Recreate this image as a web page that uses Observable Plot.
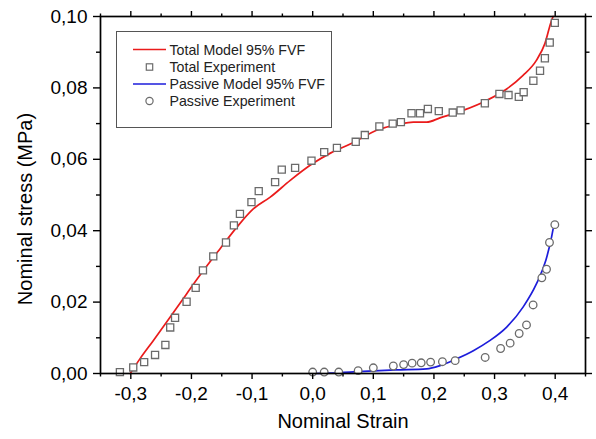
<!DOCTYPE html>
<html>
<head>
<meta charset="utf-8">
<script src="https://cdn.jsdelivr.net/npm/d3@7"></script>
<script src="https://cdn.jsdelivr.net/npm/@observablehq/plot@0.6"></script>
<style>
  html, body { margin: 0; padding: 0; background: white; }
</style>
</head>
<body>
<div id="chart"></div>
<script>
// Total model 95% FVF (red curve)
const totalModelX = [-0.301,-0.285,-0.263,-0.235,-0.208,-0.180,-0.153,-0.125,-0.098,-0.070,-0.037,0.0,0.030,0.062,0.111,0.140,0.166,0.188,0.210,0.248,0.287,0.320,0.347,0.369,0.383,0.394,0.3966];
const totalModelY = [0,0.0041,0.0092,0.0158,0.0223,0.0289,0.0349,0.0410,0.0461,0.0494,0.0541,0.0588,0.0618,0.0643,0.0685,0.0697,0.0704,0.0704,0.0716,0.0737,0.0765,0.0797,0.0835,0.0877,0.0924,0.0989,0.1];

// Passive model 95% FVF (blue curve)
const passiveModelX = [0,0.0285,0.083,0.138,0.188,0.21,0.237,0.265,0.292,0.32,0.347,0.369,0.3846,0.394,0.3966];
const passiveModelY = [0,0.0001,0.0006,0.001,0.0013,0.0022,0.0041,0.0064,0.0092,0.013,0.0186,0.0251,0.0317,0.0382,0.0405];

// Total experiment (squares)
const totalExpX = [-0.318,-0.296,-0.278,-0.260,-0.243,-0.235,-0.227,-0.208,-0.193,-0.181,-0.164,-0.143,-0.130,-0.120,-0.101,-0.089,-0.062,-0.051,-0.029,-0.002,0.019,0.040,0.071,0.086,0.110,0.132,0.1455,0.163,0.177,0.190,0.208,0.231,0.244,0.284,0.308,0.323,0.340,0.348,0.364,0.375,0.383,0.391,0.3994];
const totalExpY = [0.0004,0.0017,0.0032,0.0052,0.0080,0.0129,0.0156,0.0201,0.0240,0.0289,0.0328,0.0367,0.0415,0.0447,0.0480,0.0511,0.0536,0.0571,0.0576,0.0596,0.0620,0.0632,0.0649,0.0668,0.0692,0.0700,0.0704,0.0729,0.0729,0.0741,0.0735,0.0731,0.0737,0.0757,0.0783,0.0780,0.0775,0.0788,0.0820,0.0848,0.0883,0.0927,0.0982];

// Passive experiment (circles)
const passiveExpX = [0.0,0.019,0.043,0.075,0.100,0.133,0.150,0.164,0.179,0.1945,0.214,0.235,0.2845,0.310,0.3257,0.3406,0.3527,0.3636,0.378,0.3857,0.3906,0.3994];
const passiveExpY = [0.0004,0.0004,0.0004,0.0008,0.0016,0.0021,0.0025,0.0029,0.0030,0.0032,0.0033,0.0036,0.0045,0.0070,0.0085,0.0112,0.0136,0.0192,0.0268,0.0292,0.0367,0.0417];

// Ticks
const xMajorTicks = [-0.3,-0.2,-0.1,0,0.1,0.2,0.3,0.4];
const xMinorTicks = [-0.35,-0.25,-0.15,-0.05,0.05,0.15,0.25,0.35,0.45];
const yMajorTicks = [0,0.02,0.04,0.06,0.08,0.10];
const yMinorTicks = [0.01,0.03,0.05,0.07,0.09];

const legendLabels = ["Total Model 95% FVF","Total Experiment","Passive Model 95% FVF","Passive Experiment"];

const zip = (xs, ys) => xs.map((x, i) => ({x, y: ys[i]}));
const totalModel = zip(totalModelX, totalModelY);
const passiveModel = zip(passiveModelX, passiveModelY);
const totalExp = zip(totalExpX, totalExpY);
const passiveExp = zip(passiveExpX, passiveExpY);

const RED = "#ea1b1b";
const BLUE = "#1d1ddb";
const MARK = "#6b6b6b";

const fmtX = d => d.toFixed(1).replace(".", ",");
const fmtY = d => d.toFixed(2).replace(".", ",");
const blank = () => "";

const plot = Plot.plot({
  width: 596,
  height: 439,
  marginLeft: 100,
  marginRight: 11,
  marginTop: 16,
  marginBottom: 66,
  style: {fontFamily: "'Liberation Sans', Arial, sans-serif", fontSize: "19px", color: "black", background: "white"},
  x: {domain: [-0.35, 0.45]},
  y: {domain: [0, 0.1]},
  marks: [
    Plot.line(totalModel, {x: "x", y: "y", stroke: RED, strokeWidth: 1.7, curve: "monotone-x"}),
    Plot.line(passiveModel, {x: "x", y: "y", stroke: BLUE, strokeWidth: 1.7, curve: "monotone-x"}),
    Plot.dot(totalExp, {x: "x", y: "y", symbol: "square", r: 4, stroke: MARK, strokeWidth: 1.3, fill: "white"}),
    Plot.dot(passiveExp, {x: "x", y: "y", symbol: "circle", r: 3.8, stroke: MARK, strokeWidth: 1.3, fill: "white"}),
    Plot.frame({stroke: "black", strokeWidth: 1.7}),
    // bottom axis
    Plot.axisX({anchor: "bottom", ticks: xMajorTicks, tickSize: 6, tickPadding: 7, tickFormat: fmtX, label: null, strokeWidth: 1.4, fontSize: 19}),
    Plot.axisX({anchor: "bottom", ticks: xMinorTicks, tickSize: 3.5, tickFormat: blank, label: null, strokeWidth: 1.4}),
    // top axis (ticks only)
    Plot.axisX({anchor: "top", ticks: xMajorTicks, tickSize: 6, tickFormat: blank, label: null, strokeWidth: 1.4}),
    Plot.axisX({anchor: "top", ticks: xMinorTicks, tickSize: 3.5, tickFormat: blank, label: null, strokeWidth: 1.4}),
    // left axis
    Plot.axisY({anchor: "left", ticks: yMajorTicks, tickSize: 7, tickPadding: 6, tickFormat: fmtY, label: null, strokeWidth: 1.4, fontSize: 19}),
    Plot.axisY({anchor: "left", ticks: yMinorTicks, tickSize: 4, tickFormat: blank, label: null, strokeWidth: 1.4}),
    // right axis (ticks only)
    Plot.axisY({anchor: "right", ticks: yMajorTicks, tickSize: 6, tickFormat: blank, label: null, strokeWidth: 1.4}),
    Plot.axisY({anchor: "right", ticks: yMinorTicks, tickSize: 3.5, tickFormat: blank, label: null, strokeWidth: 1.4}),
    // axis titles
    Plot.text(["Nominal Strain"], {frameAnchor: "bottom", dy: 54, fontSize: 20, fill: "black"}),
    Plot.text(["Nominal stress (MPa)"], {frameAnchor: "left", textAnchor: "middle", rotate: -90, dx: -75, dy: 14, fontSize: 20, fill: "black"})
  ]
});

document.getElementById("chart").appendChild(plot);

// Legend box drawn inside the plot's SVG
const svg = d3.select(plot);
const lg = svg.append("g").attr("font-family", "'Liberation Sans', Arial, sans-serif").attr("font-size", 14.2).attr("text-anchor", "start");
lg.append("rect").attr("x", 116.5).attr("y", 31.5).attr("width", 215).attr("height", 96)
  .attr("fill", "white").attr("stroke", "#555").attr("stroke-width", 1);
const rows = [49.5, 67, 84, 101];
const kinds = ["line-red", "square", "line-blue", "circle"];
rows.forEach((cy, i) => {
  const k = kinds[i];
  if (k === "line-red" || k === "line-blue") {
    lg.append("line").attr("x1", 133).attr("x2", 166).attr("y1", cy).attr("y2", cy)
      .attr("stroke", k === "line-red" ? RED : BLUE).attr("stroke-width", 1.7);
  } else if (k === "square") {
    lg.append("rect").attr("x", 149.5 - 3.2).attr("y", cy - 3.2).attr("width", 6.4).attr("height", 6.4)
      .attr("fill", "white").attr("stroke", MARK).attr("stroke-width", 1.2);
  } else {
    lg.append("circle").attr("cx", 149.5).attr("cy", cy).attr("r", 3.6)
      .attr("fill", "white").attr("stroke", MARK).attr("stroke-width", 1.2);
  }
  lg.append("text").attr("x", 169.5).attr("y", cy).attr("dy", "0.36em").attr("text-anchor", "start").attr("fill", "#222").text(legendLabels[i]);
});
</script>
</body>
</html>
